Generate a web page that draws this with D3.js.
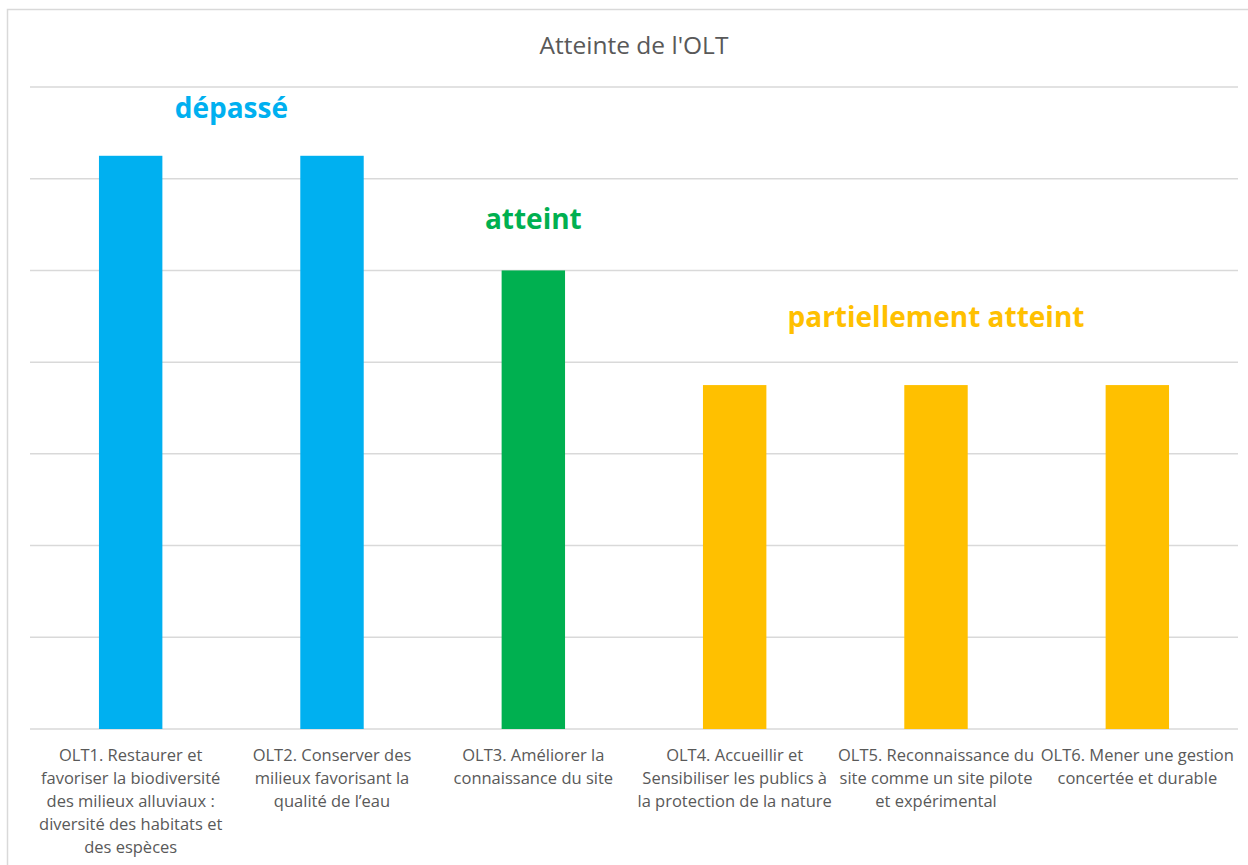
<!DOCTYPE html>
<html><head><meta charset="utf-8">
<script src="https://cdn.jsdelivr.net/npm/d3@7"></script>
<style>body{margin:0;background:#fff}svg{display:block}</style>
</head><body>
<svg id="c" width="1248" height="865"></svg>
<script>
const categories = ["OLT1","OLT2","OLT3","OLT4","OLT5","OLT6"];
const categoryLabels = [
  ["OLT1. Restaurer et","favoriser la biodiversité","des milieux alluviaux :","diversité des habitats et","des espèces"],
  ["OLT2. Conserver des","milieux favorisant la","qualité de l\u2019eau"],
  ["OLT3. Améliorer la","connaissance du site"],
  ["OLT4. Accueillir et","Sensibiliser les publics à","la protection de la nature"],
  ["OLT5. Reconnaissance du","site comme un site pilote","et expérimental"],
  ["OLT6. Mener une gestion","concertée et durable"]
];
const values = [6.25, 6.25, 5, 3.75, 3.75, 3.75];
const barColors = ["#00B0F0","#00B0F0","#00B050","#FFC000","#FFC000","#FFC000"];
const yTicks = [0,1,2,3,4,5,6,7];
const annotations = [
  {text:"dépassé", from:0, to:1, y:6.66, color:"#00B0F0"},
  {text:"atteint", from:2, to:2, y:5.45, color:"#00B050"},
  {text:"partiellement atteint", from:3, to:5, y:4.38, color:"#FFC000"}
];
const title = "Atteinte de l'OLT";

(function(){
const svg = d3.select("#c");
const font = "'Open Sans', sans-serif";
svg.append("rect").attr("x",7.5).attr("y",9.5).attr("width",1260).attr("height",880)
  .attr("fill","#fff").attr("stroke","#d9d9d9").attr("stroke-width",1.5);

const pLeft=30, pRight=1238, pTop=87, pBottom=729;
const x = d3.scaleBand().domain(categories).range([pLeft,pRight]).paddingInner(0).paddingOuter(0);
const y = d3.scaleLinear().domain([0,7]).range([pBottom,pTop]);

svg.append("g").selectAll("line").data(yTicks).join("line")
  .attr("x1",pLeft).attr("x2",pRight)
  .attr("y1",d=>y(d)).attr("y2",d=>y(d))
  .attr("stroke","#d9d9d9").attr("stroke-width",1.5);

const bw = x.bandwidth()*0.315;
svg.append("g").selectAll("rect").data(values).join("rect")
  .attr("x",(d,i)=>x(categories[i])+x.bandwidth()/2-bw/2)
  .attr("width",bw)
  .attr("y",d=>y(d)).attr("height",d=>y(0)-y(d))
  .attr("fill",(d,i)=>barColors[i]);

const lg = svg.append("g");
categoryLabels.forEach((lines,i)=>{
  const t = lg.append("text").attr("text-anchor","middle")
    .attr("font-family",font).attr("font-size",16.5).attr("fill","#595959");
  lines.forEach((ln,j)=>{
    t.append("tspan").attr("x",x(categories[i])+x.bandwidth()/2)
      .attr("y",761+j*23).text(ln);
  });
});

svg.append("g").selectAll("text").data(annotations).join("text")
  .attr("x",d=>(x(categories[d.from])+x(categories[d.to])+x.bandwidth())/2)
  .attr("y",d=>y(d.y))
  .attr("text-anchor","middle").attr("font-family",font).attr("font-weight","bold")
  .attr("font-size",28).attr("fill",d=>d.color).text(d=>d.text);

svg.append("text").attr("x",634).attr("y",54).attr("text-anchor","middle")
  .attr("font-family",font).attr("font-size",24.5).attr("fill","#595959").text(title);
})();
</script>
</body></html>
